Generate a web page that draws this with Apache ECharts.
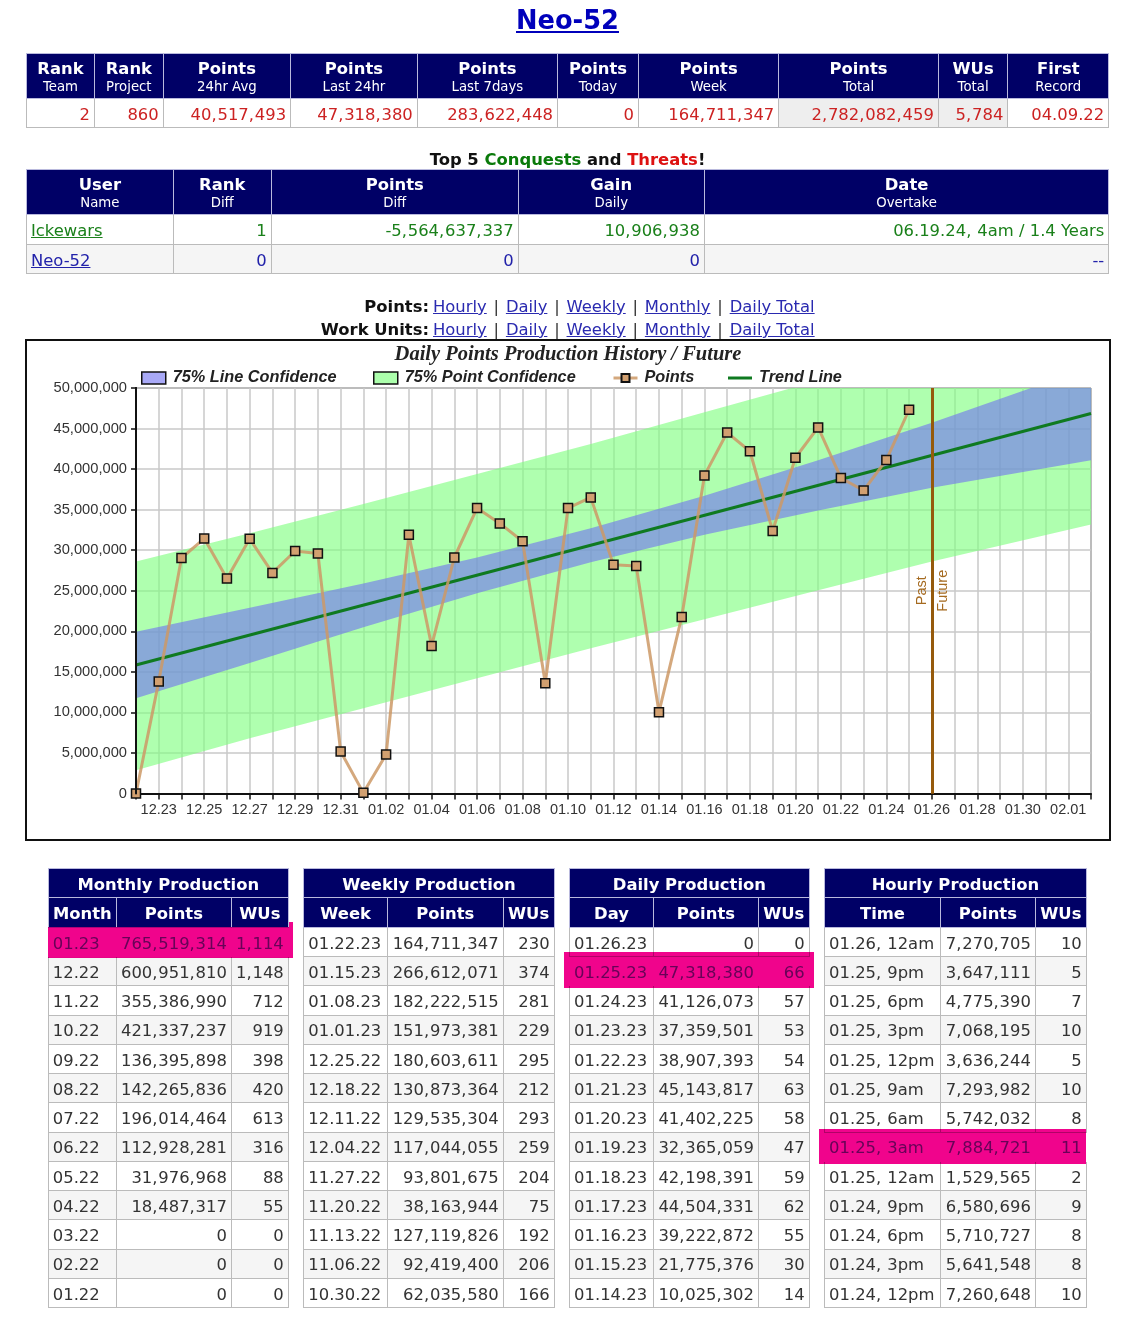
<!DOCTYPE html>
<html>
<head>
<meta charset="utf-8">
<title>Neo-52</title>
<script src="https://cdn.jsdelivr.net/npm/echarts@6/dist/echarts.min.js"></script>
<style>
html,body{margin:0;padding:0;background:#fff;}
body{position:relative;width:1122px;height:1342px;overflow:hidden;font-family:"DejaVu Sans",sans-serif;font-size:16.4px;color:#333;}
.abs{position:absolute;white-space:nowrap;}
table{position:absolute;border-collapse:collapse;table-layout:fixed;}
th{background:#000066;color:#fff;font-weight:bold;border:1px solid #b9b9dd;padding:2px 0 0 0;text-align:center;line-height:18px;}
th.tl{padding-top:4px;}
th small{display:block;font-weight:normal;font-size:13.3px;line-height:17px;}
td{border:1px solid #bbb;padding:2px 4px 0 4px;text-align:right;white-space:nowrap;overflow:visible;}
td.l{text-align:left;}
tr.even td{background:#f5f5f5;}
tr.best td{background:#fff;color:#7070a0;border-color:#fff;}
td.total{background:#eee !important;}
.red td{color:#cc2222;}
.green td,.green a{color:#1a801a;}
.blue td,.blue a{color:#2222aa;}
a{color:#2a2ab0;}
.hl{position:absolute;background:#f0048c;mix-blend-mode:multiply;}
#box{position:absolute;left:25px;top:339px;width:1082px;height:498px;border:2px solid #111;}
#chart{width:1082px;height:498px;}
</style>
</head>
<body>
<div class="abs" style="left:0;width:1135px;top:5px;text-align:center;font-size:25.7px;font-weight:bold;"><a href="#" style="color:#0000bb;">Neo-52</a></div>
<div class="abs" style="left:0;width:1135px;top:150px;text-align:center;font-weight:bold;color:#111;">Top 5 <span style="color:#0a7a0a;">Conquests</span> and <span style="color:#dd1111;">Threats</span>!</div>
<div class="abs" id="links1" style="left:433px;top:297px;"></div>
<div class="abs" id="links2" style="left:433px;top:320px;"></div>
<div class="abs" style="right:693px;top:297px;font-weight:bold;color:#111;">Points:</div>
<div class="abs" style="right:693px;top:320px;font-weight:bold;color:#111;">Work Units:</div>
<div id="tables"></div>
<div id="box"><div id="chart"></div></div>
<script>
// top tables
var topHeadMain = ['Rank','Rank','Points','Points','Points','Points','Points','Points','WUs','First'];
var topHeadSub = ['Team','Project','24hr Avg','Last 24hr','Last 7days','Today','Week','Total','Total','Record'];
var topValues = ['2','860','40,517,493','47,318,380','283,622,448','0','164,711,347','2,782,082,459','5,784','04.09.22'];

var rivalHeadMain = ['User','Rank','Points','Gain','Date'];
var rivalHeadSub = ['Name','Diff','Diff','Daily','Overtake'];
var rivalIckewars = ['Ickewars','1','-5,564,637,337','10,906,938','06.19.24, 4am / 1.4 Years'];
var rivalNeo = ['Neo-52','0','0','0','--'];

var linkLabels = ['Hourly','Daily','Weekly','Monthly','Daily Total'];

// production tables
var monthLabels = ['01.23','12.22','11.22','10.22','09.22','08.22','07.22','06.22','05.22','04.22','03.22','02.22','01.22'];
var monthPoints = ['765,519,314','600,951,810','355,386,990','421,337,237','136,395,898','142,265,836','196,014,464','112,928,281','31,976,968','18,487,317','0','0','0'];
var monthWus = ['1,114','1,148','712','919','398','420','613','316','88','55','0','0','0'];

var weekLabels = ['01.22.23','01.15.23','01.08.23','01.01.23','12.25.22','12.18.22','12.11.22','12.04.22','11.27.22','11.20.22','11.13.22','11.06.22','10.30.22'];
var weekPoints = ['164,711,347','266,612,071','182,222,515','151,973,381','180,603,611','130,873,364','129,535,304','117,044,055','93,801,675','38,163,944','127,119,826','92,419,400','62,035,580'];
var weekWus = ['230','374','281','229','295','212','293','259','204','75','192','206','166'];

var dayLabels = ['01.26.23','01.25.23','01.24.23','01.23.23','01.22.23','01.21.23','01.20.23','01.19.23','01.18.23','01.17.23','01.16.23','01.15.23','01.14.23'];
var dayPoints = ['0','47,318,380','41,126,073','37,359,501','38,907,393','45,143,817','41,402,225','32,365,059','42,198,391','44,504,331','39,222,872','21,775,376','10,025,302'];
var dayWus = ['0','66','57','53','54','63','58','47','59','62','55','30','14'];

var hourLabels = ['01.26, 12am','01.25, 9pm','01.25, 6pm','01.25, 3pm','01.25, 12pm','01.25, 9am','01.25, 6am','01.25, 3am','01.25, 12am','01.24, 9pm','01.24, 6pm','01.24, 3pm','01.24, 12pm'];
var hourPoints = ['7,270,705','3,647,111','4,775,390','7,068,195','3,636,244','7,293,982','5,742,032','7,884,721','1,529,565','6,580,696','5,710,727','5,641,548','7,260,648'];
var hourWus = ['10','5','7','10','5','10','8','11','2','9','8','8','10'];

// chart
var categories = ['12.22','12.23','12.24','12.25','12.26','12.27','12.28','12.29','12.30','12.31','01.01','01.02','01.03','01.04','01.05','01.06','01.07','01.08','01.09','01.10','01.11','01.12','01.13','01.14','01.15','01.16','01.17','01.18','01.19','01.20','01.21','01.22','01.23','01.24','01.25','01.26','01.27','01.28','01.29','01.30','01.31','02.01','02.02'];
var pointsValues = [0,13800000,29040000,31430000,26500000,31400000,27200000,29900000,29600000,5180000,80000,4800000,31900000,18200000,29100000,35200000,33300000,31100000,13600000,35200000,36500000,28200000,28060000,10025302,21775376,39222872,44504331,42198391,32365059,41402225,45143817,38907393,37359501,41126073,47318380];
var trendDays = ['12.22','02.02'];
var trendValues = [15850000,46850000];
var bandDays = ['12.22','12.27','01.01','01.06','01.11','01.16','01.21','01.26','02.02'];
var lineUpper = [19950000,22900000,25900000,29100000,32700000,36700000,41100000,45700000,52600000];
var lineLower = [11750000,16100000,20500000,24700000,28500000,31900000,34900000,37700000,41100000];
var pointUpper = [28600000,32100000,35700000,39400000,43100000,47000000,50900000,54800000,60500000];
var pointLower = [2870000,6800000,10500000,14200000,17900000,21500000,25050000,28600000,33160000];

function buildTable(left, top, edges, headHtml, bodyHtml){
    var cols = '';
    for(var i=0; i<edges.length-1; i++){
        cols += '<col style="width:'+(edges[i+1]-edges[i])+'px">';
    }
    // verdana commas are wider than dejavu ones
    var body = bodyHtml.replace(/,/g, '<span style="letter-spacing:.8px">,</span>');
    return '<table style="left:'+(left-0.5)+'px;top:'+top+'px;width:'+(edges[edges.length-1]-edges[0])+'px"><colgroup>'+cols+'</colgroup>'+headHtml+body+'</table>';
}

function twoLineHead(main, sub, h){
    var s = '<tr style="height:'+h+'px">';
    for(var i=0; i<main.length; i++){
        s += '<th class="tl">'+main[i]+'<small>'+sub[i]+'</small></th>';
    }
    return s+'</tr>';
}

function productionTable(edges, title, heads, a, b, c, bestRow){
    var head = '<tr style="height:29px"><th class="tl" colspan="3">'+title+'</th></tr><tr style="height:29.7px">';
    for(var i=0; i<heads.length; i++) head += '<th>'+heads[i]+'</th>';
    head += '</tr>';
    var body = '';
    for(var j=0; j<a.length; j++){
        var cls = j == bestRow ? ' class="best"' : (j%2 ? ' class="even"' : '');
        body += '<tr style="height:29.25px"'+cls+'><td class="l">'+a[j]+'</td><td>'+b[j]+'</td><td>'+c[j]+'</td></tr>';
    }
    return buildTable(edges[0], 868.3, edges, head, body);
}

var html = '';
var topBody = '<tr class="red" style="height:29px">';
for(var i=0; i<topValues.length; i++){
    topBody += '<td'+(i==7||i==8 ? ' class="total"' : '')+'>'+topValues[i]+'</td>';
}
topBody += '</tr>';
html += buildTable(26.5, 52.7, [26.5,94.5,163.2,290.6,417.3,557.6,638.5,778.8,938.4,1007.9,1108.8], twoLineHead(topHeadMain, topHeadSub, 45.5), topBody);

var rivalBody = '<tr class="green" style="height:30px"><td class="l"><a href="#">'+rivalIckewars[0]+'</a></td>';
for(var i=1; i<rivalIckewars.length; i++) rivalBody += '<td>'+rivalIckewars[i]+'</td>';
rivalBody += '</tr><tr class="blue even" style="height:29px"><td class="l"><a href="#">'+rivalNeo[0]+'</a></td>';
for(var i=1; i<rivalNeo.length; i++) rivalBody += '<td>'+rivalNeo[i]+'</td>';
rivalBody += '</tr>';
html += buildTable(26.5, 168.7, [26.5,173.2,271.3,518.2,704.4,1108.8], twoLineHead(rivalHeadMain, rivalHeadSub, 45.6), rivalBody);

html += productionTable([48.3,116.4,231.4,288.3], 'Monthly Production', ['Month','Points','WUs'], monthLabels, monthPoints, monthWus, 0);
html += productionTable([303.8,387.4,503.1,554.1], 'Weekly Production', ['Week','Points','WUs'], weekLabels, weekPoints, weekWus, -1);
html += productionTable([569.6,653.5,758.4,809.2], 'Daily Production', ['Day','Points','WUs'], dayLabels, dayPoints, dayWus, 1);
html += productionTable([824.6,940.4,1035.4,1086.3], 'Hourly Production', ['Time','Points','WUs'], hourLabels, hourPoints, hourWus, 7);

// highlighted (best) rows
html += '<div class="hl" style="left:48px;top:927px;width:245.4px;height:30.7px"></div>';
html += '<div class="hl" style="left:288.8px;top:921.7px;width:4.6px;height:5.3px"></div>';
html += '<div class="hl" style="left:564px;top:952px;width:250px;height:35.7px"></div>';
html += '<div class="hl" style="left:819px;top:1128.7px;width:267.3px;height:35.6px"></div>';
document.getElementById('tables').innerHTML = html;

var linkHtml = '';
for(var i=0; i<linkLabels.length; i++){
    linkHtml += (i ? ' <span style="margin:0 1.6px">|</span> ' : '')+'<a href="#">'+linkLabels[i]+'</a>';
}
document.getElementById('links1').innerHTML = linkHtml;
document.getElementById('links2').innerHTML = linkHtml;

var mychart = echarts.init(document.getElementById('chart'));

function pairs(days, vals){
    var out = [];
    for(var i=0; i<days.length; i++) out.push([days[i], vals[i]]);
    return out;
}

function bandSeries(name, lower, upper, color){
    var diff = [];
    for(var i=0; i<upper.length; i++) diff.push(upper[i]-lower[i]);
    return [{
        name: name+' base',
        type: 'line',
        stack: name,
        symbol: 'none',
        silent: true,
        lineStyle: {width:0, opacity:0},
        data: pairs(bandDays, lower)
    },{
        name: name,
        type: 'line',
        stack: name,
        symbol: 'none',
        silent: true,
        lineStyle: {width:0, opacity:0},
        itemStyle: {color:color},
        areaStyle: {color:color, opacity:1},
        data: pairs(bandDays, diff)
    }];
}

var legendFont = {fontFamily:'Liberation Sans', fontStyle:'italic', fontWeight:'bold', fontSize:16.3, color:'#222', padding:[0,0,0,2]};
function legendAt(left, name, extra, height){
    var item = {name:name};
    for(var k in extra) item[k] = extra[k];
    return {left:left, top:29, itemWidth:24, itemHeight:height, itemGap:0, padding:0, selectedMode:false, textStyle:legendFont, data:[item]};
}

var series = [].concat(
    bandSeries('75% Point Confidence', pointLower, pointUpper, 'rgba(128,255,128,0.63)'),
    bandSeries('75% Line Confidence', lineLower, lineUpper, 'rgba(112,112,242,0.6)')
);
series.push({
    name: 'Trend Line',
    type: 'line',
    symbol: 'none',
    lineStyle: {color:'#0f7a20', width:3},
    itemStyle: {color:'#0f7a20'},
    data: pairs(trendDays, trendValues),
    z: 3
});
series.push({
    name: 'Points',
    type: 'line',
    symbol: 'rect',
    symbolSize: 9,
    clip: false,
    lineStyle: {color:'#cc9966', width:3, opacity:0.85},
    itemStyle: {color:'#d2a070', borderColor:'#111', borderWidth:1.5},
    data: pointsValues,
    z: 4,
    markLine: {
        silent: true,
        symbol: 'none',
        animation: false,
        lineStyle: {color:'#955a0c', width:3, type:'solid', opacity:1},
        label: {color:'#a56a20', fontFamily:'Liberation Sans', fontSize:14.5},
        data: [
            {xAxis:'01.26', label:{formatter:'Past', position:'insideMiddleTop', distance:2}},
            {xAxis:'01.26', label:{formatter:'Future', position:'insideMiddleBottom', distance:4}}
        ]
    }
});

var option = {
    animation: false,
    backgroundColor: '#fff',
    title: {
        text: 'Daily Points Production History / Future',
        left: 'center',
        top: 4,
        padding: 0,
        textStyle: {fontFamily:'Liberation Serif', fontStyle:'italic', fontWeight:'bold', fontSize:20.5, color:'#222'}
    },
    legend: [
        legendAt(114, '75% Line Confidence', {icon:'rect', itemStyle:{color:'#a9a9f7', borderColor:'#111', borderWidth:1.5}}, 12),
        legendAt(346, '75% Point Confidence', {icon:'rect', itemStyle:{color:'#acffac', borderColor:'#111', borderWidth:1.5}}, 12),
        legendAt(585, 'Points', {lineStyle:{width:3, color:'#cc9966'}}, 10),
        legendAt(701, 'Trend Line', {icon:'rect', itemStyle:{color:'#0f7a20'}}, 3)
    ],
    grid: {left:109, top:47, width:955, height:405.5, show:true, backgroundColor:'#fff', borderColor:'#333', borderWidth:1},
    xAxis: {
        type: 'category',
        boundaryGap: false,
        data: categories,
        axisLine: {onZero:false, lineStyle:{color:'#111', width:2}},
        axisTick: {interval:0, length:6, lineStyle:{color:'#111', width:1.5}},
        axisLabel: {
            interval: function (index) { return index % 2 == 1; },
            margin: 9,
            color: '#333',
            fontFamily: 'Liberation Sans',
            fontSize: 14.5
        },
        splitLine: {show:true, interval:0, lineStyle:{color:'#c8c8c8', width:1.5}}
    },
    yAxis: [{
        type: 'value',
        min: 0,
        max: 50000000,
        interval: 5000000,
        axisLine: {show:true, lineStyle:{color:'#111', width:2}},
        axisTick: {show:true, length:5, lineStyle:{color:'#111', width:1.5}},
        axisLabel: {
            margin: 9,
            color: '#333',
            fontFamily: 'Liberation Sans',
            fontSize: 14.7,
            formatter: function (v) { return v.toLocaleString('en-US'); }
        },
        splitLine: {show:true, lineStyle:{color:'#c8c8c8', width:1.5}}
    },{
        // only here so the axis line sits on top of the bands
        type: 'value',
        position: 'left',
        min: 0,
        max: 50000000,
        interval: 5000000,
        z: 10,
        axisLine: {show:true, lineStyle:{color:'#111', width:2}},
        axisTick: {show:false},
        axisLabel: {show:false},
        splitLine: {show:false}
    }],
    series: series
};
mychart.setOption(option);
</script>
</body>
</html>
